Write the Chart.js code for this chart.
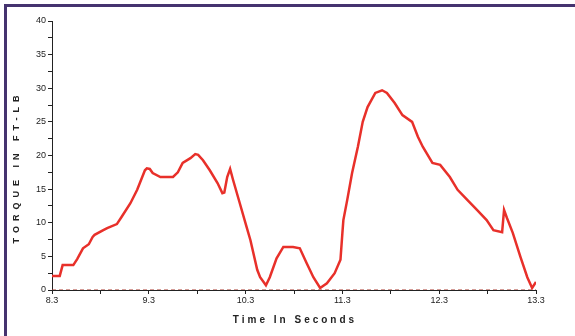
<!DOCTYPE html>
<html>
<head>
<meta charset="utf-8">
<script src="https://cdn.jsdelivr.net/npm/chart.js@4.4.1/dist/chart.umd.min.js"></script>
<style>
    html, body { margin: 0; padding: 0; background: #fff; }
    #wrap { position: relative; width: 575px; height: 336px; overflow: hidden; }
    #frame {
        position: absolute; left: 4px; top: 4px; right: -5px; bottom: -5px;
        border-left: 3px solid #45336f; border-top: 3px solid #45336f;
    }
    #chart { position: absolute; left: 0; top: 0; }
</style>
</head>
<body>
<div id="wrap">
    <div id="frame"></div>
    <canvas id="chart" width="575" height="336"></canvas>
</div>
<script>
// Torque trace (seconds, ft-lb)
var timeSec = [8.30, 8.38, 8.41, 8.52, 8.56, 8.62, 8.68, 8.72, 8.74, 8.83, 8.87, 8.97, 9.02,
    9.11, 9.18, 9.26, 9.28, 9.31, 9.34, 9.42, 9.55, 9.60, 9.65, 9.73, 9.78, 9.81, 9.86,
    9.93, 10.01, 10.06, 10.08, 10.11, 10.14, 10.17, 10.24, 10.31, 10.35, 10.42, 10.45,
    10.51, 10.55, 10.62, 10.69, 10.79, 10.86, 10.93, 11.00, 11.07, 11.14, 11.22, 11.28,
    11.30, 11.31, 11.35, 11.40, 11.46, 11.51, 11.56, 11.64, 11.71, 11.76, 11.84, 11.92,
    12.02, 12.08, 12.13, 12.23, 12.31, 12.41, 12.49, 12.59, 12.69, 12.79, 12.86, 12.95,
    12.97, 13.00, 13.06, 13.14, 13.21, 13.26, 13.30];
var torque = [2.1, 2.1, 3.7, 3.7, 4.6, 6.2, 6.8, 7.9, 8.2, 8.9, 9.2, 9.8, 10.9,
    12.9, 14.9, 17.8, 18.1, 18.0, 17.4, 16.8, 16.8, 17.5, 18.9, 19.6, 20.2, 20.1, 19.3,
    17.8, 15.9, 14.4, 14.5, 16.8, 18.0, 16.4, 12.9, 9.4, 7.4, 3.0, 1.9,
    0.7, 1.9, 4.7, 6.4, 6.4, 6.2, 4.0, 1.9, 0.3, 1.0, 2.5, 4.5,
    8.5, 10.4, 13.4, 17.4, 21.3, 25.0, 27.2, 29.3, 29.7, 29.3, 27.8, 26.0,
    25.0, 22.8, 21.3, 18.9, 18.6, 16.8, 14.9, 13.4, 11.9, 10.4, 8.9, 8.6,
    11.9, 10.7, 8.5, 4.9, 1.9, 0.3, 1.2];

var baseTime = [8.3, 13.3];
var baseValue = [0, 0];

var xTicks = [8.3, 8.8, 9.3, 9.8, 10.3, 10.8, 11.3, 11.8, 12.3, 12.8, 13.3];
var xTickLabels = ['8.3', '', '9.3', '', '10.3', '', '11.3', '', '12.3', '', '13.3'];
var yTicks = [0, 2.5, 5, 7.5, 10, 12.5, 15, 17.5, 20, 22.5, 25, 27.5, 30, 32.5, 35, 37.5, 40];

function toPoints(xs, ys) {
    return xs.map(function(x, i) { return { x: x, y: ys[i] }; });
}

// Spaced-out axis titles like the original printout
var titlePlugin = {
    id: 'axisTitles',
    afterDraw: function(chart) {
        var ctx = chart.ctx;
        var area = chart.chartArea;
        ctx.save();
        ctx.fillStyle = '#222';
        ctx.font = '600 10px "Liberation Sans", Arial, sans-serif';
        ctx.letterSpacing = '3px';
        ctx.textAlign = 'center';
        ctx.textBaseline = 'middle';
        ctx.fillText('Time In Seconds', (area.left + area.right) / 2 + 1, 320);

        ctx.font = '600 9px "Liberation Sans", Arial, sans-serif';
        ctx.letterSpacing = '5px';
        ctx.translate(17, 167);
        ctx.rotate(-Math.PI / 2);
        ctx.fillText('TORQUE IN FT-LB', 0, 0);
        ctx.restore();
    }
};

var tickFont = { family: '"Liberation Sans", Arial, sans-serif', size: 9 };

new Chart(document.getElementById('chart'), {
    type: 'line',
    data: {
        datasets: [{
            label: 'Torque',
            data: toPoints(timeSec, torque),
            borderColor: '#e8302a',
            borderWidth: 2.5,
            pointRadius: 0,
            tension: 0,
            fill: false
        }, {
            label: 'Zero',
            data: toPoints(baseTime, baseValue),
            borderColor: '#a8382e',
            borderWidth: 1,
            borderDash: [4, 3],
            pointRadius: 0,
            fill: false
        }]
    },
    options: {
        responsive: false,
        animation: false,
        events: [],
        layout: { padding: { left: 0, top: 21, right: 39, bottom: 0 } },
        plugins: { legend: { display: false }, tooltip: { enabled: false } },
        scales: {
            x: {
                type: 'linear',
                min: 8.3,
                max: 13.3,
                afterFit: function(scale) { scale.height = 46; },
                afterBuildTicks: function(scale) {
                    scale.ticks = xTicks.map(function(v) { return { value: v }; });
                },
                border: { display: true, color: '#222', width: 1 },
                grid: { drawOnChartArea: false, tickLength: 4, color: '#222' },
                ticks: {
                    autoSkip: false,
                    maxRotation: 0,
                    padding: 1,
                    color: '#222',
                    font: tickFont,
                    callback: function(val, idx) { return xTickLabels[idx]; }
                }
            },
            y: {
                min: 0,
                max: 40,
                afterFit: function(scale) { scale.width = 52; },
                afterBuildTicks: function(scale) {
                    scale.ticks = yTicks.map(function(v) { return { value: v }; });
                },
                border: { display: true, color: '#222', width: 1 },
                grid: { drawOnChartArea: false, tickLength: 4, color: '#222' },
                ticks: {
                    autoSkip: false,
                    padding: 2,
                    color: '#222',
                    font: tickFont,
                    callback: function(val) { return val % 5 === 0 ? String(val) : ''; }
                }
            }
        }
    },
    plugins: [titlePlugin]
});
</script>
</body>
</html>
